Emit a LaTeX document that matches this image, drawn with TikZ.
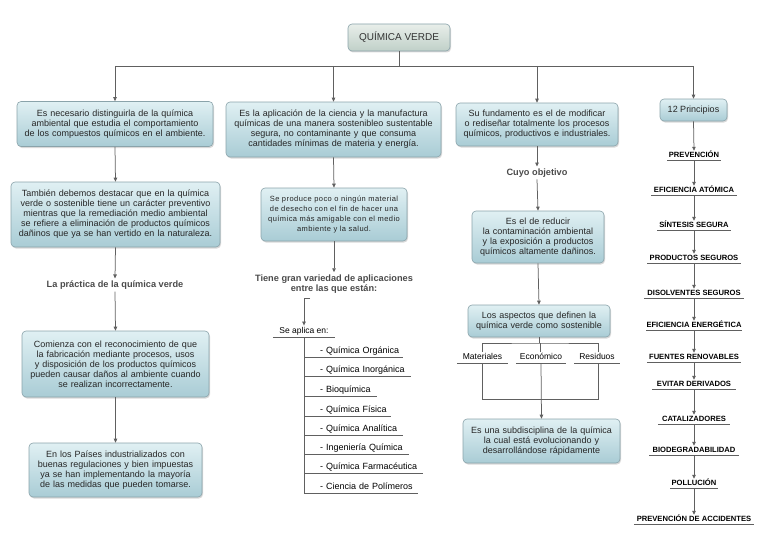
\documentclass[tikz,border=0pt]{standalone}
\usepackage{fontspec}
\setmainfont{Liberation Sans}
\newfontfamily\spacedfont[LetterSpace=6]{Liberation Sans}
\usetikzlibrary{shadows,arrows.meta}
\definecolor{lnc}{HTML}{606060}
\definecolor{boxtop}{HTML}{E0F0F3}
\definecolor{boxbot}{HTML}{A9CCD5}
\definecolor{boxln}{HTML}{8AA3AA}
\definecolor{ttop}{HTML}{E8EEEA}
\definecolor{tbot}{HTML}{C0D0C8}
\definecolor{hd}{HTML}{4A4A4A}
\newcommand{\myfs}[2]{\fontsize{#1}{#2}\selectfont}
\begin{document}
\begin{tikzpicture}[x=1pt,y=-1pt,
 box/.style={draw=boxln, line width=0.6pt, rounded corners=4pt, top color=boxtop, bottom color=boxbot,
   drop shadow={shadow xshift=1pt, shadow yshift=-1.5pt, opacity=0.3}, align=center, inner sep=2pt,
   font=\myfs{9}{10}, text=black!85},
 ttl/.style={box, top color=ttop, bottom color=tbot, text=black!80},
 hdg/.style={font=\myfs{9.2}{10.5}\bfseries, text=hd, align=center, inner sep=2pt},
 ulab/.style={inner xsep=0pt, inner ysep=1pt,
   append after command={(\tikzlastnode.south west) edge[draw=lnc, line width=0.7pt] (\tikzlastnode.south east)}},
 pr/.style={ulab, anchor=south, font=\myfs{7.6}{8}\bfseries, text height=5.8pt, text depth=1pt},
 apl/.style={ulab, anchor=south west, font=\myfs{9}{10}, text height=7pt, text depth=2pt, align=left},
 asp/.style={ulab, anchor=south, font=\myfs{8.5}{10}, text height=7pt, text depth=2pt},
 conn/.style={draw=lnc, line width=0.75pt},
 arr/.style={conn, -{Triangle[length=4pt,width=3.5pt]}},
]
\useasboundingbox (0,0) rectangle (768,543);

% title and first level
\node[ttl, minimum width=102, minimum height=27, font=\myfs{10}{12}] (title) at (399,37.5) {QUÍMICA VERDE};

\node[box, text width=192, minimum height=45] (b1) at (115,124)
 {Es necesario distinguirla de la química\\ambiental que estudia el comportamiento\\de los compuestos químicos en el ambiente.};
\node[box, text width=211, minimum height=55] (b2) at (333.5,129.5)
 {Es la aplicación de la ciencia y la manufactura\\químicas de una manera sostenibleo sustentable\\segura, no contaminante y que consuma\\cantidades mínimas de materia y energía.};
\node[box, text width=158, minimum height=43] (b3) at (537,124.5)
 {Su fundamento es el de modificar\\o rediseñar totalmente los procesos\\químicos, productivos e industriales.};
\node[box, minimum width=67, minimum height=22] (b4) at (693.5,110) {12 Principios};

\coordinate (hb) at (399,66);
\draw[conn] (title.south) -- (hb);
\draw[conn] (b1.north |- hb) -- (b4.north |- hb);
\foreach \n in {b1,b2,b3,b4} \draw[arr] (\n.north |- hb) -- (\n.north);

% left column
\node[box, text width=205, minimum height=65] (b1b) at (115.5,214.5)
 {También debemos destacar que en la química\\verde o sostenible tiene un carácter preventivo\\mientras que la remediación medio ambiental\\se refiere a eliminación de productos químicos\\dañinos que ya se han vertido en la naturaleza.};
\node[hdg] (h1) at (115,285) {La práctica de la química verde};
\node[box, text width=183, minimum height=66] (b1c) at (115.5,364)
 {Comienza con el reconocimiento de que\\la fabricación mediante procesos, usos\\y disposición de los productos químicos\\pueden causar daños al ambiente cuando\\se realizan incorrectamente.};
\node[box, text width=169, minimum height=54] (b1d) at (115.5,470)
 {En los Países industrializados con\\buenas regulaciones y bien impuestas\\ya se han implementando la mayoría\\de las medidas que pueden tomarse.};
\draw[arr] (b1.south) -- (b1b.north);
\draw[arr] (b1b.south) -- (h1.north);
\draw[arr] (h1.south) -- (b1c.north);
\draw[arr] (b1c.south) -- (b1d.north);

% second column
\node[box, text width=142, minimum height=53, font=\spacedfont\myfs{7.5}{10}] (b2b) at (334,214.5)
 {Se produce poco o ningún material\\de desecho con el fin de hacer una\\química más amigable con el medio\\ambiente y la salud.};
\node[hdg] (h2) at (334,284) {Tiene gran variedad de aplicaciones\\entre las que están:};
\draw[arr] (b2.south) -- (b2b.north);
\draw[arr] (b2b.south) -- (h2.north);

\node[asp, minimum width=62] (sa) at (304,337) {Se aplica en:};
\coordinate (c1) at (310,298);
\coordinate (c2) at (304,298);
\draw[arr] (c1) -- (c2) -- (sa.north);

\node[apl, text width=99]  (i1) at (304,357) {\hspace*{16pt}- Química Orgánica};
\node[apl, text width=107] (i2) at (304,376) {\hspace*{16pt}- Química Inorgánica};
\node[apl, text width=73]  (i3) at (304,396) {\hspace*{16pt}- Bioquímica};
\node[apl, text width=87]  (i4) at (304,416) {\hspace*{16pt}- Química Física};
\node[apl, text width=99]  (i5) at (304,435) {\hspace*{16pt}- Química Analítica};
\node[apl, text width=105] (i6) at (304,454) {\hspace*{16pt}- Ingeniería Química};
\node[apl, text width=119] (i7) at (304,473) {\hspace*{16pt}- Química Farmacéutica};
\node[apl, text width=114] (i8) at (304,493) {\hspace*{16pt}- Ciencia de Polímeros};
\draw[conn] (sa.south) -- (i8.south west);

% third column
\node[hdg] (h3) at (537,173) {Cuyo objetivo};
\node[box, text width=128, minimum height=52] (b3b) at (538,237)
 {Es el de reducir\\la contaminación ambiental\\y la exposición a productos\\químicos altamente dañinos.};
\node[box, text width=138, minimum height=32] (b3c) at (539,321)
 {Los aspectos que definen la\\química verde como sostenible};
\draw[arr] (b3.south) -- (h3.north);
\draw[arr] (h3.south) -- (b3b.north);
\draw[arr] (b3b.south) -- (b3c.north);

\node[asp, minimum width=51] (m1) at (482.5,363) {Materiales};
\node[asp, minimum width=50] (m2) at (541,363) {Económico};
\node[asp, minimum width=45] (m3) at (597,363) {Residuos};
\coordinate (tb) at (540,343);
\draw[conn] (b3c.south) -- (b3c.south |- tb);
\draw[conn] (m1.north -| 482,0) |- (tb) -| (m3.north -| 598,0);
\draw[conn] (tb) -- (m2.north -| tb);
\draw[conn] (m1.south -| 482,0) -- ++(0,36) -| (m3.south -| 598,0);

\node[box, text width=153, minimum height=44] (b3d) at (541.5,441)
 {Es una subdisciplina de la química\\la cual está evolucionando y\\desarrollándose rápidamente};
\draw[arr] (m2.south) -- (b3d.north);

% principles column
\node[pr, minimum width=53]  (p1)  at (694,160) {PREVENCIÓN};
\node[pr, minimum width=85]  (p2)  at (694,195) {EFICIENCIA ATÓMICA};
\node[pr, minimum width=73]  (p3)  at (694,230) {SÍNTESIS SEGURA};
\node[pr, minimum width=93]  (p4)  at (694,263) {PRODUCTOS SEGUROS};
\node[pr, minimum width=100] (p5)  at (694,298) {DISOLVENTES SEGUROS};
\node[pr, minimum width=93]  (p6)  at (694,330) {EFICIENCIA ENERGÉTICA};
\node[pr, minimum width=94]  (p7)  at (694,362) {FUENTES RENOVABLES};
\node[pr, minimum width=83]  (p8)  at (694,389) {EVITAR DERIVADOS};
\node[pr, minimum width=72]  (p9)  at (694,424) {CATALIZADORES};
\node[pr, minimum width=89]  (p10) at (694,455) {BIODEGRADABILIDAD};
\node[pr, minimum width=47]  (p11) at (694,488) {POLLUCIÓN};
\node[pr, minimum width=120] (p12) at (694,524) {PREVENCIÓN DE ACCIDENTES};
\draw[arr] (b4.south) -- (p1.north);
\foreach \a/\b in {p1/p2,p2/p3,p3/p4,p4/p5,p5/p6,p6/p7,p7/p8,p8/p9,p9/p10,p10/p11,p11/p12}
  \draw[arr] (\a.south) -- (\b.north);
\end{tikzpicture}
\end{document}
